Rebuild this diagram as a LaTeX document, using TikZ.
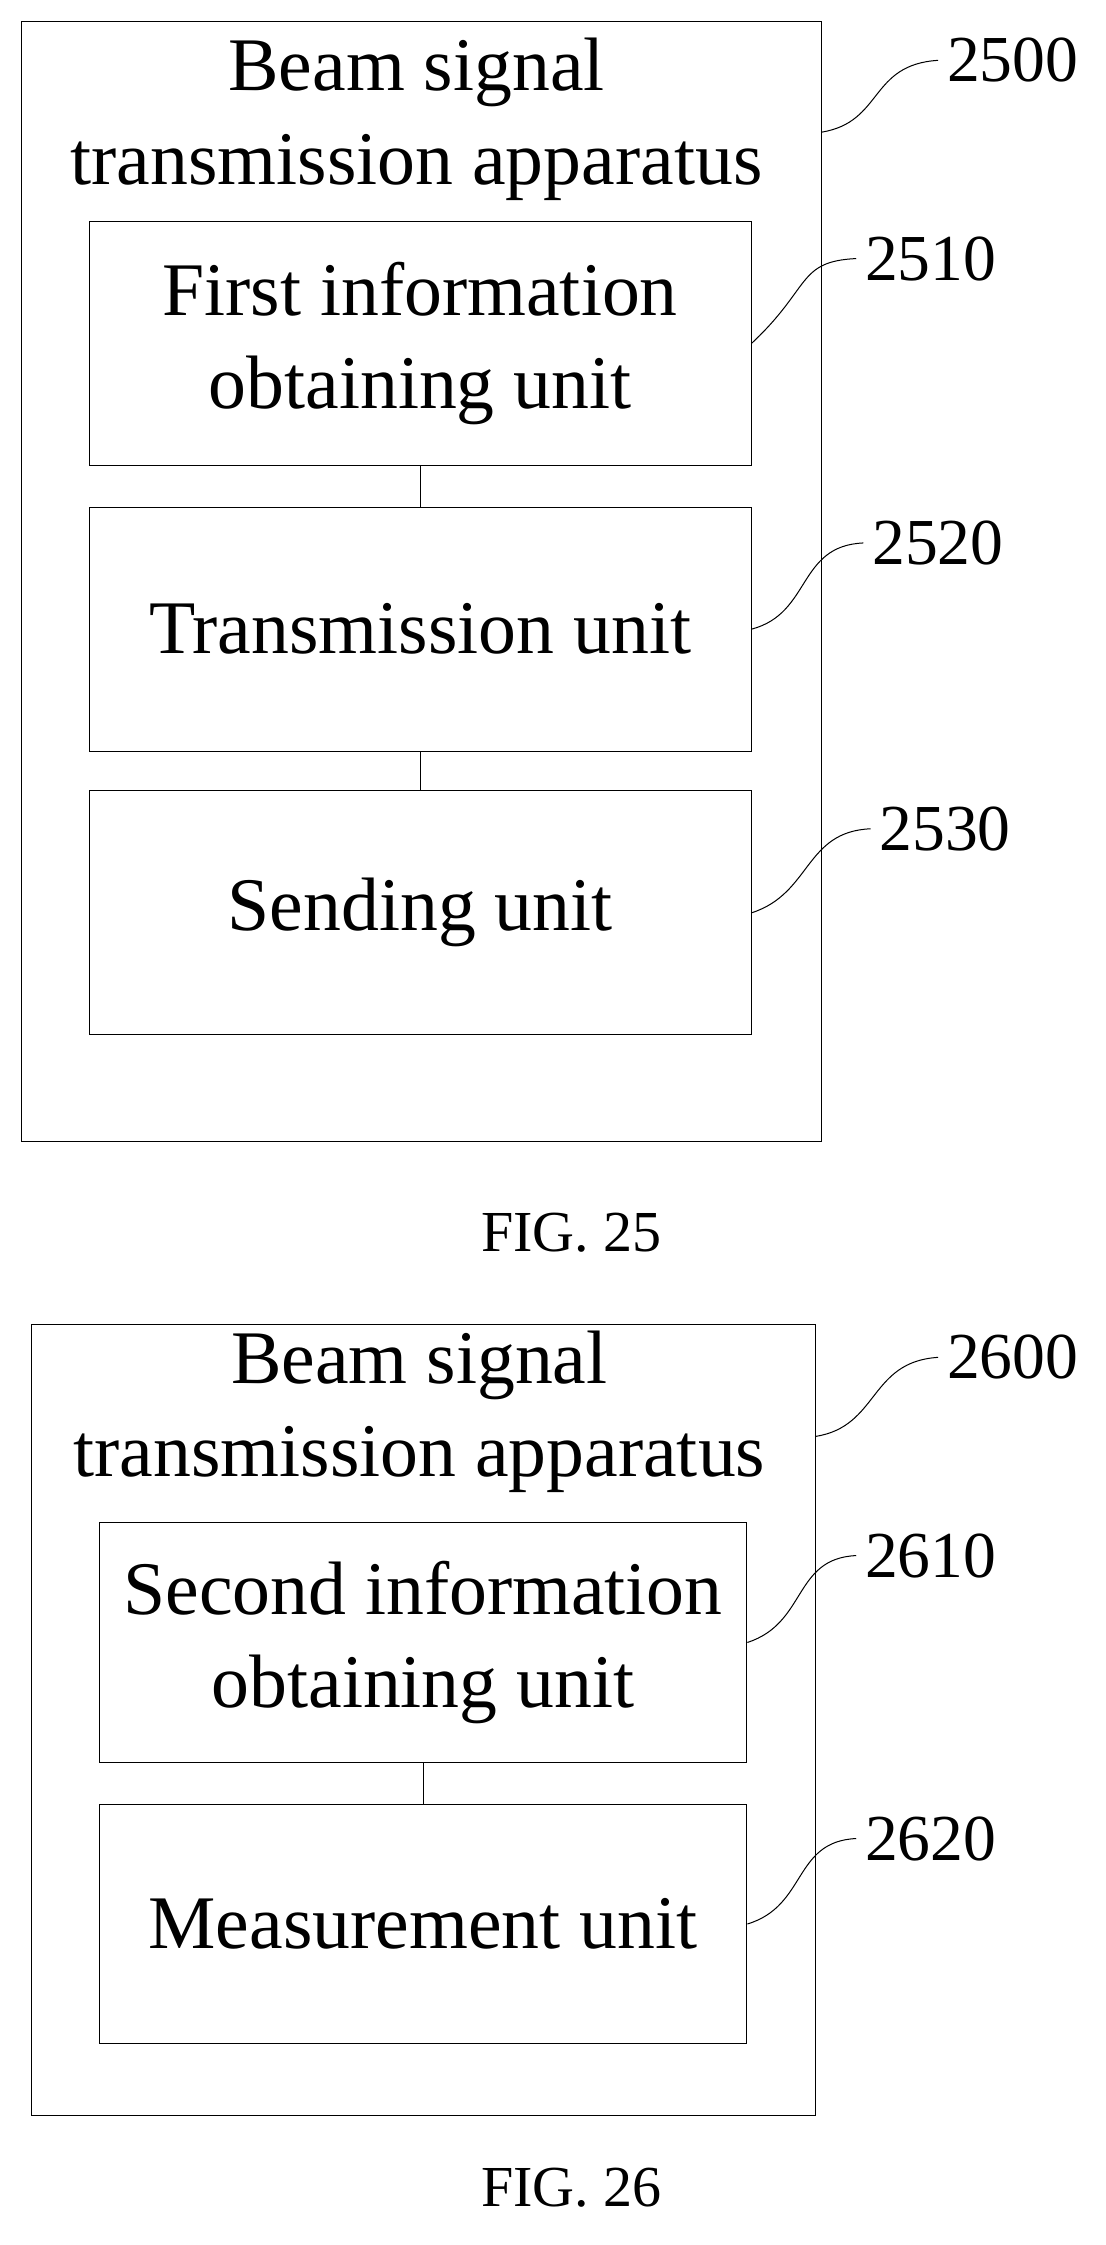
\documentclass[tikz,border=0pt]{standalone}
\usepackage{fontspec}
\setmainfont{Liberation Serif}
\usetikzlibrary{positioning}
\begin{document}
\begin{tikzpicture}[x=0.02cm,y=-0.02cm,
    unit/.style={draw,thin,minimum width=9.22cm,minimum height=3.4cm,align=center,font=\fontsize{30}{37}\selectfont},
    frame/.style={draw,thin},
    title/.style={align=center,font=\fontsize{30}{37}\selectfont},
    num/.style={font=\fontsize{26}{28}\selectfont},
    fig/.style={font=\fontsize{23}{25}\selectfont},
    lead/.style={thin}]
    \useasboundingbox (0,0) rectangle (770,1563);

    % FIG. 25
    \draw[frame] (15,15) rectangle (572,795);
    \node[title] (T1) at (290,83) {Beam signal\\transmission apparatus};
    \node[unit] (U1) at (292.5,239) {First information\\obtaining unit};
    \node[unit] (U2) at (292.5,438) {Transmission unit};
    \node[unit] (U3) at (292.5,635.5) {Sending unit};
    \draw (U1) -- (U2);
    \draw (U2) -- (U3);
    \coordinate (F1) at (572,92);
    \node[num] (N1) at (705,42) {2500};
    \node[num] (N2) at (648,180) {2510};
    \node[num] (N3) at (653,378) {2520};
    \node[num] (N4) at (658,577) {2530};
    \draw[lead] (F1) .. controls (615,85) and (605,45) .. (N1.west);
    \draw[lead] (U1.east) .. controls (565,200) and (555,182) .. (N2.west);
    \draw[lead] (U2.east) .. controls (565,427) and (555,380) .. (N3.west);
    \draw[lead] (U3.east) .. controls (565,622) and (560,579) .. (N4.west);
    \node[fig] (G1) at (398,858) {FIG. 25};

    % FIG. 26
    \draw[frame] (22,922) rectangle (568,1473);
    \node[title] (T2) at (292,983) {Beam signal\\transmission apparatus};
    \node[unit,minimum width=9.02cm,minimum height=3.34cm] (V1) at (294.5,1143.5) {Second information\\obtaining unit};
    \node[unit,minimum width=9.02cm,minimum height=3.34cm] (V2) at (294.5,1339.5) {Measurement unit};
    \draw (V1) -- (V2);
    \coordinate (F2) at (568,1000);
    \node[num] (M1) at (705,945) {2600};
    \node[num] (M2) at (648,1083) {2610};
    \node[num] (M3) at (648,1280) {2620};
    \draw[lead] (F2) .. controls (612,993) and (605,948) .. (M1.west);
    \draw[lead] (V1.east) .. controls (562,1130) and (552,1085) .. (M2.west);
    \draw[lead] (V2.east) .. controls (562,1327) and (552,1282) .. (M3.west);
    \node[fig] (G2) at (398,1523) {FIG. 26};
\end{tikzpicture}
\end{document}
